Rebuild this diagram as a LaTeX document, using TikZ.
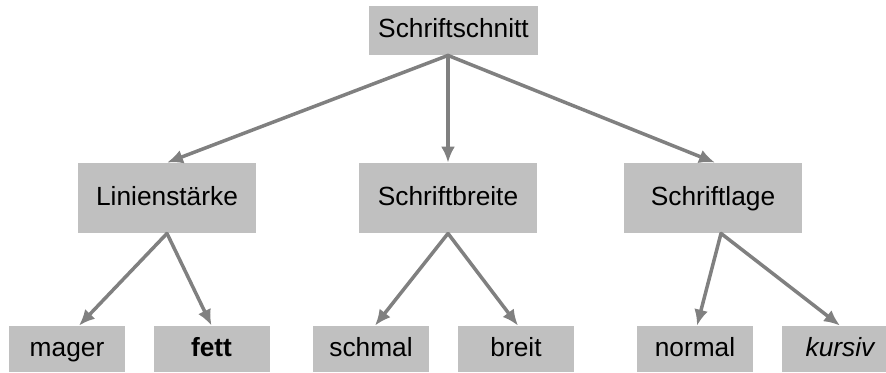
\documentclass[tikz,border=0pt]{standalone}
\usepackage{fontspec}
\setmainfont{Liberation Sans}
\usetikzlibrary{arrows.meta}
\definecolor{kastengrau}{RGB}{192,192,192}
\definecolor{pfeilgrau}{RGB}{128,128,128}

\begin{document}
\begin{tikzpicture}[x=0.5pt,y=-0.5pt,line cap=round,line join=round,
  box/.style={fill=kastengrau,inner sep=0pt,text height=0.716em,text depth=0pt,
    font=\fontsize{13.15pt}{16pt}\selectfont},
  oben/.style={box,minimum width=84.5pt,minimum height=24.5pt},
  mitte/.style={box,minimum width=89pt,minimum height=35pt},
  unten/.style={box,minimum width=58pt,minimum height=23pt},
  pfeil/.style={draw=pfeilgrau,line width=1.75pt,-{Latex[length=8pt,width=7pt]}}]
\useasboundingbox (0,0) rectangle (886,372);
% Knoten
\node[oben] (schnitt) at (453.5,30.5) {Schriftschnitt};
\node[mitte] (staerke) at (167,198) {Linienstärke};
\node[mitte] (breite) at (448,198) {Schriftbreite};
\node[mitte] (lage) at (713,198) {Schriftlage};
\node[unten] (mager) at (67,349) {mager};
\node[unten] (fett) at (211.5,349) {\bfseries fett};
\node[unten] (schmal) at (371,349) {schmal};
\node[unten] (breit) at (516,349) {breit};
\node[unten] (normal) at (695,349) {normal};
\node[unten] (kursiv) at (840,349) {\itshape kursiv};
% Pfeile
\draw[pfeil] ([xshift=-2.75pt]schnitt.south) -- (staerke.north);
\draw[pfeil] ([xshift=-2.75pt]schnitt.south) -- (breite.north);
\draw[pfeil] ([xshift=-2.75pt]schnitt.south) -- ([xshift=1pt]lage.north);
\draw[pfeil] (staerke.south) -- ([xshift=6pt]mager.north);
\draw[pfeil] (staerke.south) -- (fett.north);
\draw[pfeil] (breite.south) -- ([xshift=2pt]schmal.north);
\draw[pfeil] (breite.south) -- ([xshift=1pt]breit.north);
\draw[pfeil] ([xshift=4pt]lage.south) -- ([xshift=1pt]normal.north);
\draw[pfeil] ([xshift=4pt]lage.south) -- (kursiv.north);
\end{tikzpicture}
\end{document}
